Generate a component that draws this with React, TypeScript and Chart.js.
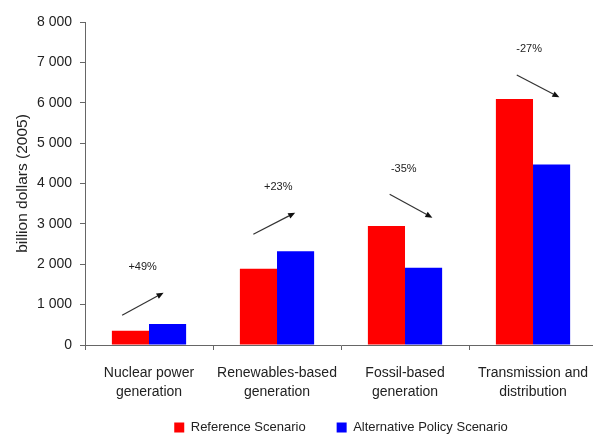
import React, { useEffect, useRef } from "react";
import { Chart, registerables } from "chart.js";

Chart.register(...registerables);

const categories: string[][] = [
  ["Nuclear power", "generation"],
  ["Renewables-based", "generation"],
  ["Fossil-based", "generation"],
  ["Transmission and", "distribution"],
];
const referenceScenario = [350, 1890, 2950, 6090];
const alternativeScenario = [520, 2320, 1915, 4470];
const changeLabels = ["+49%", "+23%", "-35%", "-27%"];
const changeLabelValues = [1940, 3920, 4350, 7330];
const arrowStartValues = [736, 2742, 3733, 6688];
const arrowEndValues = [1295, 3277, 3153, 6135];

// annotation horizontal offsets (fraction of category width)
const labelOffsets = [-0.05, 0.01, -0.01, -0.03];
const arrowStartOffsets = [-0.21, -0.185, -0.12, -0.127];
const arrowEndOffsets = [0.114, 0.142, 0.214, 0.206];

const FONT = "'Liberation Sans', Arial, sans-serif";

const annotationPlugin = {
  id: "changeArrows",
  afterDatasetsDraw(chart: any) {
    const { ctx } = chart;
    const x = chart.scales.x;
    const y = chart.scales.y;
    const catW = (chart.chartArea.right - chart.chartArea.left) / categories.length;
    ctx.save();
    for (let i = 0; i < categories.length; i++) {
      const cx = x.getPixelForValue(i);
      ctx.fillStyle = "#222";
      ctx.font = `11px ${FONT}`;
      ctx.textAlign = "center";
      ctx.textBaseline = "middle";
      ctx.fillText(changeLabels[i], cx + labelOffsets[i] * catW, y.getPixelForValue(changeLabelValues[i]));
      const x1 = cx + arrowStartOffsets[i] * catW;
      const y1 = y.getPixelForValue(arrowStartValues[i]);
      const x2 = cx + arrowEndOffsets[i] * catW;
      const y2 = y.getPixelForValue(arrowEndValues[i]);
      const ang = Math.atan2(y2 - y1, x2 - x1);
      const headLen = 7;
      const headW = 3;
      const bx = x2 - headLen * Math.cos(ang);
      const by = y2 - headLen * Math.sin(ang);
      ctx.strokeStyle = "#333";
      ctx.lineWidth = 1.2;
      ctx.beginPath();
      ctx.moveTo(x1, y1);
      ctx.lineTo(bx, by);
      ctx.stroke();
      ctx.fillStyle = "#111";
      ctx.beginPath();
      ctx.moveTo(x2, y2);
      ctx.lineTo(bx + headW * Math.sin(ang), by - headW * Math.cos(ang));
      ctx.lineTo(bx - headW * Math.sin(ang), by + headW * Math.cos(ang));
      ctx.closePath();
      ctx.fill();
    }
    ctx.restore();
  },
};

const legendPlacePlugin = {
  id: "legendPlace",
  beforeLayout(chart: any) {
    const lg = chart.legend;
    if (lg && !lg._patchedFit) {
      const orig = lg.fit;
      lg.fit = function () {
        orig.call(this);
        this.height = 29;
      };
      lg._patchedFit = true;
    }
  },
  afterLayout(chart: any) {
    const lg = chart.legend;
    if (lg) {
      lg.top = chart.height - 44;
      lg.bottom = chart.height;
    }
  },
};

function formatThousands(v: number): string {
  return String(v).replace(/\B(?=(\d{3})+(?!\d))/g, " ");
}

export default function App() {
  const ref = useRef<HTMLCanvasElement | null>(null);

  useEffect(() => {
    document.documentElement.style.overflow = "hidden";
    document.body.style.overflow = "hidden";
    if (!ref.current) return;
    Chart.defaults.font.family = FONT;
    const chart = new Chart(ref.current, {
      type: "bar",
      data: {
        labels: categories,
        datasets: [
          {
            label: "Reference Scenario",
            data: referenceScenario,
            backgroundColor: "#ff0000",
            categoryPercentage: 0.58,
            barPercentage: 1.0,
          },
          {
            label: "Alternative Policy Scenario",
            data: alternativeScenario,
            backgroundColor: "#0000ff",
            categoryPercentage: 0.58,
            barPercentage: 1.0,
          },
        ],
      },
      options: {
        animation: false,
        responsive: false,
        devicePixelRatio: 1,
        layout: { padding: { top: 22, left: 0, right: 0, bottom: 0 } },
        plugins: {
          legend: {
            position: "bottom",
            fullSize: false,
            labels: {
              boxWidth: 10,
              boxHeight: 10,
              padding: 31,
              color: "#222",
              font: { size: 13, family: FONT },
            },
          },
          tooltip: { enabled: false },
        },
        scales: {
          x: {
            afterFit(scale: any) {
              scale.height = 60;
            },
            grid: {
              display: true,
              drawOnChartArea: false,
              drawTicks: true,
              tickLength: 5,
              color: "#666",
              offset: true,
            },
            border: { display: true, color: "#666", width: 1 },
            ticks: {
              color: "#222",
              padding: 14,
              maxRotation: 0,
              autoSkip: false,
              font: { size: 14, family: FONT, lineHeight: 1.36 },
            },
          },
          y: {
            min: 0,
            max: 8000,
            afterFit(scale: any) {
              scale.width = 85;
            },
            grid: {
              display: true,
              drawOnChartArea: false,
              drawTicks: true,
              tickLength: 5,
              color: "#666",
            },
            border: { display: true, color: "#666", width: 1 },
            ticks: {
              stepSize: 1000,
              color: "#222",
              padding: 8,
              font: { size: 14, family: FONT },
              callback: (v: any) => formatThousands(Number(v)),
            },
            title: {
              display: true,
              text: "billion dollars (2005)",
              color: "#222",
              padding: { top: 13, bottom: 0 },
              font: { size: 15.5, family: FONT },
            },
          },
        },
      },
      plugins: [annotationPlugin, legendPlacePlugin],
    } as any);
    return () => chart.destroy();
  }, []);

  return (
    <div style={{ position: "absolute", left: 0, top: 0, width: 602, height: 434 }}>
      <canvas ref={ref} width={602} height={434} style={{ width: 602, height: 434, display: "block" }} />
    </div>
  );
}
